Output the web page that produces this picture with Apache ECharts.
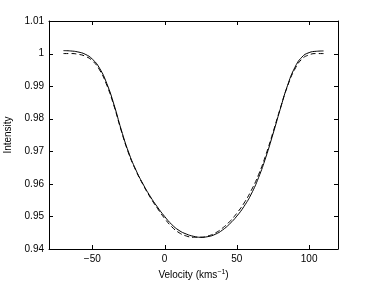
<!DOCTYPE html>
<html><head><meta charset="utf-8">
<script src="https://cdn.jsdelivr.net/npm/echarts@6/dist/echarts.min.js"></script>
<style>html,body{margin:0;padding:0;background:#fff}#c{width:374px;height:281px}</style>
</head><body><div id="c"></div>
<script>
const velocity = [-70,-65,-60,-55,-50,-45,-40,-35,-30,-25,-20,-15,-10,-5,0,5,10,15,20,25,30,35,40,45,50,55,60,65,70,75,80,85,90,95,100,105,110];
const observed = [1.0009,1.0008,1.0005,0.9998,0.9983,0.9955,0.9908,0.9843,0.9766,0.9698,0.9644,0.9600,0.9562,0.9529,0.9500,0.9475,0.9457,0.9446,0.9439,0.9436,0.9438,0.9445,0.9458,0.9477,0.9501,0.9531,0.9569,0.9619,0.9681,0.9753,0.9829,0.9901,0.9956,0.9989,1.0003,1.0007,1.0008];
const model = [1.0000,1.0000,0.9998,0.9992,0.9978,0.9950,0.9903,0.9839,0.9763,0.9695,0.9642,0.9598,0.9559,0.9525,0.9494,0.9468,0.9450,0.9440,0.9436,0.9436,0.9440,0.9449,0.9464,0.9484,0.9510,0.9541,0.9580,0.9628,0.9688,0.9758,0.9831,0.9899,0.9951,0.9983,0.9996,1.0000,1.0000];
const xTicks = [-50,0,50,100];
const yTicks = [0.94,0.95,0.96,0.97,0.98,0.99,1,1.01];
const xMin = -80, xMax = 120, yMin = 0.94, yMax = 1.01;

(function(){
const font = 'Liberation Sans, Arial, Helvetica, sans-serif';
const axColor = '#000';
const TICK = 4;
const pair = a => velocity.map((v,i)=>[v,a[i]]);
const chart = echarts.init(document.getElementById('c'),null,{renderer:'canvas'});

chart.setOption({
  animation:false,
  backgroundColor:'#fff',
  grid:{left:49,right:36,top:21,bottom:32,containLabel:false,outerBoundsMode:'none'},
  xAxis:[
    {type:'value',min:xMin,max:xMax,position:'bottom',splitLine:{show:false},
      axisLine:{show:true,onZero:false,lineStyle:{color:axColor}},
      axisTick:{show:false},
      name:'{a|Velocity (kms}{s|−1}{a|)}',nameLocation:'middle',nameGap:15,
      nameTextStyle:{rich:{a:{fontFamily:font,fontSize:10,color:'#000'},s:{fontFamily:font,fontSize:7,color:'#000',verticalAlign:'top',padding:[0,0,6,0]}}},
      axisLabel:{show:true,customValues:xTicks,fontFamily:font,fontSize:10,color:'#000',margin:5,formatter:v=>v<0?'−'+Math.abs(v):String(v)}},
    {type:'value',min:xMin,max:xMax,position:'top',splitLine:{show:false},
      axisLine:{show:true,onZero:false,lineStyle:{color:axColor}},
      axisTick:{show:false},axisLabel:{show:false}}
  ],
  yAxis:[
    {type:'value',min:yMin,max:yMax,position:'left',splitLine:{show:false},
      axisLine:{show:true,onZero:false,lineStyle:{color:axColor}},
      axisTick:{show:false},
      name:'Intensity',nameLocation:'middle',nameGap:26,nameRotate:90,
      nameTextStyle:{fontFamily:font,fontSize:10,color:'#000'},
      axisLabel:{show:true,customValues:yTicks,fontFamily:font,fontSize:10,color:'#000',margin:5,formatter:v=>String(+v.toFixed(2))}},
    {type:'value',min:yMin,max:yMax,position:'right',splitLine:{show:false},
      axisLine:{show:true,onZero:false,lineStyle:{color:axColor}},
      axisTick:{show:false},axisLabel:{show:false}}
  ],
  series:[
    {type:'line',data:pair(observed),smooth:true,showSymbol:false,lineStyle:{color:'#000',width:1,type:'solid'}},
    {type:'line',data:pair(model),smooth:true,showSymbol:false,lineStyle:{color:'#000',width:1,type:[5,3]}}
  ]
});

// Tick marks on all four sides, positioned through the chart's own scales
try {
  const finder = {xAxisIndex:0, yAxisIndex:0};
  const bl = chart.convertToPixel(finder, [xMin, yMin]);
  const tr = chart.convertToPixel(finder, [xMax, yMax]);
  const gL = bl[0], gB = bl[1], gR = tr[0], gT = tr[1];
  const ticks = [];
  xTicks.forEach(t => {
    const px = Math.round(chart.convertToPixel(finder, [t, yMin])[0]);
    ticks.push({type:'rect', shape:{x:px, y:gB-TICK, width:1, height:TICK}, style:{fill:axColor}, silent:true, z:100});
    ticks.push({type:'rect', shape:{x:px, y:gT, width:1, height:TICK}, style:{fill:axColor}, silent:true, z:100});
  });
  yTicks.forEach(v => {
    const py = Math.round(chart.convertToPixel(finder, [xMin, v])[1]);
    ticks.push({type:'rect', shape:{x:gL, y:py, width:TICK, height:1}, style:{fill:axColor}, silent:true, z:100});
    ticks.push({type:'rect', shape:{x:gR-TICK, y:py, width:TICK, height:1}, style:{fill:axColor}, silent:true, z:100});
  });
  chart.setOption({graphic:{elements:ticks}});
} catch (e) { console.error(e); }
})();
</script></body></html>
